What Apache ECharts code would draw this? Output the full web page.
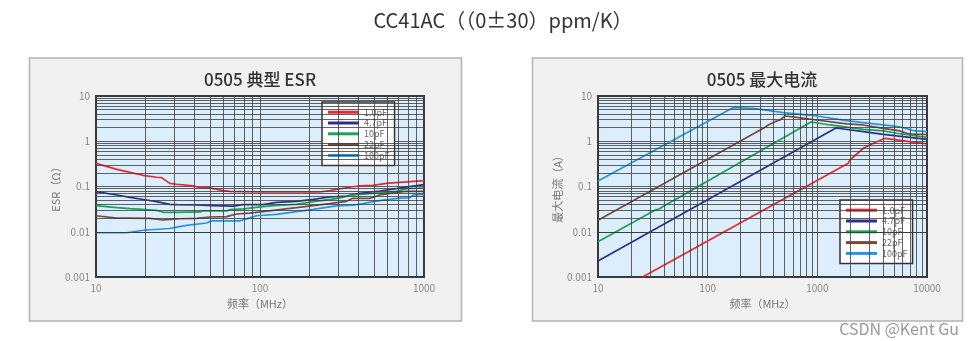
<!DOCTYPE html>
<html>
<head>
<meta charset="utf-8">
<script src="https://cdn.jsdelivr.net/npm/echarts@6/dist/echarts.min.js"></script>
<style>
html,body{margin:0;padding:0;background:#fff;}
#c{width:973px;height:341px;}
</style>
</head>
<body>
<div id="c"></div>
<script>
// ---------- Labels ----------
const mainTitle = 'CC41AC（（0±30）ppm/K）';
const leftTitle = '0505 典型 ESR';
const rightTitle = '0505 最大电流';
const seriesNames = ['1.0pF', '4.7pF', '10pF', '22pF', '100pF'];
const yTickValues = [0.001, 0.01, 0.1, 1, 10];
const yTickLabels = ['0.001', '0.01', '0.1', '1', '10'];
const xTickValuesL = [10, 100, 1000];
const xTickLabelsL = ['10', '100', '1000'];
const xTickValuesR = [10, 100, 1000, 10000];
const xTickLabelsR = ['10', '100', '1000', '10000'];

// ---------- ESR chart data (frequency MHz, ESR ohm) ----------
const esr1p0F = [10, 13.4, 16.1, 20.3, 23.4, 25.1, 28.2, 31, 39.2, 43, 49.4, 59.7, 65.5, 104, 231, 266, 336, 405, 489, 590, 678, 1000];
const esr1p0V = [0.325, 0.239, 0.206, 0.171, 0.16, 0.157, 0.117, 0.112, 0.103, 0.094, 0.093, 0.081, 0.078, 0.0755, 0.0755, 0.081, 0.094, 0.104, 0.106, 0.117, 0.122, 0.135];
const esr4p7F = [10, 13.4, 16.1, 20.3, 23.4, 28.2, 31, 41.1, 51.9, 68.6, 78.9, 104, 126, 167, 211, 266, 336, 405, 537, 678, 818, 1000];
const esr4p7V = [0.0769, 0.0649, 0.0576, 0.0503, 0.0462, 0.0404, 0.0396, 0.039, 0.0377, 0.0369, 0.0396, 0.0396, 0.0447, 0.047, 0.052, 0.0586, 0.0617, 0.0706, 0.0796, 0.0896, 0.099, 0.11];
const esr10F = [10, 13.4, 16.1, 20.3, 23.4, 25.7, 31, 43, 45.1, 62.5, 65.5, 78.9, 104, 126, 167, 211, 292, 369, 489, 563, 678, 780, 1000];
const esr10V = [0.0377, 0.034, 0.0324, 0.0308, 0.0297, 0.0269, 0.0269, 0.0274, 0.0288, 0.0288, 0.0308, 0.0319, 0.0358, 0.0382, 0.0401, 0.0462, 0.0538, 0.0649, 0.0706, 0.073, 0.078, 0.0896, 0.0926];
const esr22F = [10, 13.4, 16.1, 21.3, 25.7, 28.2, 32.5, 41.1, 49.4, 62.5, 71.9, 86.7, 104, 132, 167, 211, 266, 336, 369, 467, 537, 678, 780, 1000];
const esr22V = [0.0226, 0.0201, 0.0201, 0.0198, 0.0182, 0.0188, 0.0194, 0.0198, 0.0212, 0.0216, 0.0247, 0.0259, 0.0278, 0.0308, 0.034, 0.0377, 0.0418, 0.047, 0.0548, 0.0548, 0.0649, 0.0743, 0.078, 0.078];
const esr100F = [10, 15.4, 19.4, 28.2, 31, 35.7, 47.2, 50.7, 75.3, 86.7, 95.2, 126, 167, 211, 292, 369, 425, 489, 563, 711, 818, 857, 1000];
const esr100V = [0.0095, 0.0095, 0.0108, 0.0118, 0.0127, 0.0138, 0.0156, 0.0174, 0.0174, 0.0203, 0.0226, 0.0242, 0.0278, 0.0313, 0.0372, 0.0385, 0.042, 0.0465, 0.0498, 0.0553, 0.0562, 0.0644, 0.0666];

// ---------- Max current chart data (frequency MHz, current A) ----------
const cur1p0F = [25.5, 1914, 1986, 2627, 3245, 4140, 5290, 8050, 10000];
const cur1p0V = [0.001, 0.326, 0.385, 0.7, 0.9, 1.16, 1.07, 0.93, 0.88];
const cur4p7F = [10, 1479, 2627, 3995, 5290, 10000];
const cur4p7V = [0.00226, 1.96, 1.63, 1.42, 1.31, 1.1];
const cur10F = [10, 30, 33, 36, 40, 875, 1305, 2627, 3995, 5290, 10000];
const cur10V = [0.00604, 0.0262, 0.0300, 0.0318, 0.0372, 2.66, 2.29, 1.83, 1.69, 1.5, 1.22];
const cur22F = [10, 322, 357, 411, 457, 507, 648, 986, 1851, 2627, 3995, 5675, 6528, 7500, 10000];
const cur22V = [0.0179, 1.93, 2.29, 2.71, 2.95, 3.61, 3.38, 2.95, 2.41, 2.29, 1.93, 1.69, 1.5, 1.43, 1.41];
const cur100F = [10, 170, 261, 490, 986, 1851, 2627, 3995, 5675, 6528, 7500, 10000];
const cur100V = [0.132, 5.52, 5.33, 4.28, 3.62, 2.85, 2.58, 2.29, 2.07, 1.9, 1.71, 1.63];

const colors = ['#e62a32', '#2c2f8e', '#1aa257', '#7a4b3b', '#2398e0'];
const FONT = '"Noto Sans CJK SC", "Noto Sans", sans-serif';

function zip(a, b) { return a.map((v, i) => [v, b[i]]); }
function tickFmt(vals, labels) {
  return function (v) {
    for (let i = 0; i < vals.length; i++) {
      if (Math.abs(Math.log10(vals[i]) - Math.log10(v)) < 0.01) return labels[i];
    }
    return '';
  };
}
// minor log grid positions (2..9 within each decade)
function minorLines(lo, hi) {
  const out = [];
  for (let d = lo; d < hi; d *= 10) {
    for (let m = 2; m <= 9; m++) out.push(+(m * d).toPrecision(3));
  }
  return out;
}

const gridLineStyle = { color: '#3c3c3c', width: 1, type: 'solid', opacity: 0.8 };

function gridSeries(idx, xLo, xHi) {
  const data = [];
  minorLines(0.001, 10).forEach(v => data.push({ yAxis: v }));
  minorLines(xLo, xHi).forEach(v => data.push({ xAxis: v }));
  return {
    type: 'line', name: '_grid' + idx, xAxisIndex: idx, yAxisIndex: idx,
    data: [], silent: true, z: 1,
    markLine: {
      silent: true, symbol: ['none', 'none'], label: { show: false },
      lineStyle: gridLineStyle, animation: false,
      emphasis: { disabled: true },
      data: data
    }
  };
}

function dataSeries(idx, name, f, v, color) {
  return {
    type: 'line', name: name, xAxisIndex: idx, yAxisIndex: idx,
    data: zip(f, v), showSymbol: false, symbol: 'none', smooth: false, z: 3,
    clip: true,
    lineStyle: { color: color, width: 1.7 },
    itemStyle: { color: color },
    emphasis: { disabled: true }
  };
}

function xAxisCfg(idx, min, max, vals, labels) {
  return {
    type: 'log', logBase: 10, gridIndex: idx, min: min, max: max,
    name: '频率（MHz）', nameLocation: 'middle', nameGap: 21,
    nameTextStyle: { fontFamily: FONT, fontSize: 11, color: '#777' },
    axisLine: { show: false }, axisTick: { show: false },
    axisLabel: { fontFamily: FONT, fontSize: 10, color: '#888', margin: 6, formatter: tickFmt(vals, labels), showMinLabel: true, showMaxLabel: true },
    splitLine: { show: true, lineStyle: gridLineStyle }
  };
}
function yAxisCfg(idx, name, gap) {
  return {
    type: 'log', logBase: 10, gridIndex: idx, min: 0.001, max: 10,
    name: name, nameLocation: 'middle', nameGap: gap,
    nameTextStyle: { fontFamily: FONT, fontSize: 11, color: '#777' },
    axisLine: { show: false }, axisTick: { show: false },
    axisLabel: { fontFamily: FONT, fontSize: 10, color: '#888', margin: 6, formatter: tickFmt(yTickValues, yTickLabels), showMinLabel: true, showMaxLabel: true },
    splitLine: { show: true, lineStyle: gridLineStyle }
  };
}

function legendCfg(left, top) {
  return {
    orient: 'vertical', left: left, top: top,
    data: seriesNames, icon: 'rect', itemWidth: 31, itemHeight: 3, itemGap: 0.4,
    padding: [5, 5, 5, 6],
    backgroundColor: '#fff', borderColor: '#333', borderWidth: 1.5, borderRadius: 0,
    textStyle: { fontFamily: FONT, fontSize: 9, color: '#666', lineHeight: 10.4 },
    selectedMode: false
  };
}

const chart = echarts.init(document.getElementById('c'), null, { renderer: 'canvas' });

const series = [gridSeries(0, 10, 1000), gridSeries(1, 10, 10000)];
const esrF = [esr1p0F, esr4p7F, esr10F, esr22F, esr100F];
const esrV = [esr1p0V, esr4p7V, esr10V, esr22V, esr100V];
const curF = [cur1p0F, cur4p7F, cur10F, cur22F, cur100F];
const curV = [cur1p0V, cur4p7V, cur10V, cur22V, cur100V];
for (let i = 0; i < 5; i++) series.push(dataSeries(0, seriesNames[i], esrF[i], esrV[i], colors[i]));
for (let i = 0; i < 5; i++) series.push(dataSeries(1, seriesNames[i], curF[i], curV[i], colors[i]));

function txt(x, y, text, size, color, weight, align) {
  return {
    type: 'text', x: x, y: y, z: 100, silent: true,
    style: {
      text: text, fill: color, font: (weight || 'normal') + ' ' + size + 'px ' + FONT,
      align: align || 'center', verticalAlign: 'middle',
      textAlign: align || 'center', textVerticalAlign: 'middle'
    }
  };
}

chart.setOption({
  backgroundColor: '#ffffff',
  animation: false,
  color: colors,
  graphic: [
    { type: 'rect', z: -10, silent: true, shape: { x: 29.5, y: 58, width: 432, height: 263 },
      style: { fill: '#f1f1f1', stroke: '#b3b3b3', lineWidth: 1.5 } },
    { type: 'rect', z: -10, silent: true, shape: { x: 532.5, y: 58, width: 430, height: 263 },
      style: { fill: '#f1f1f1', stroke: '#b3b3b3', lineWidth: 1.5 } },
    txt(503, 20, mainTitle, 20, '#333', 'normal'),
    txt(260, 80, leftTitle, 17, '#333', '500'),
    txt(762, 80, rightTitle, 17, '#333', '500'),
    txt(959, 329, 'CSDN @Kent Gu', 16, '#999', 'normal', 'right')
  ],
  grid: [
    { left: 96, top: 96, width: 328, height: 181, show: true, backgroundColor: '#dcedfb', borderColor: '#3a3a3a', borderWidth: 2, containLabel: false },
    { left: 598, top: 96, width: 329, height: 181, show: true, backgroundColor: '#dcedfb', borderColor: '#3a3a3a', borderWidth: 2, containLabel: false }
  ],
  xAxis: [
    xAxisCfg(0, 10, 1000, xTickValuesL, xTickLabelsL),
    xAxisCfg(1, 10, 10000, xTickValuesR, xTickLabelsR)
  ],
  yAxis: [
    yAxisCfg(0, 'ESR（Ω）', 33),
    yAxisCfg(1, '最大电流（A）', 34)
  ],
  legend: [legendCfg(322, 102), legendCfg(840, 200)],
  series: series
});
</script>
</body>
</html>
